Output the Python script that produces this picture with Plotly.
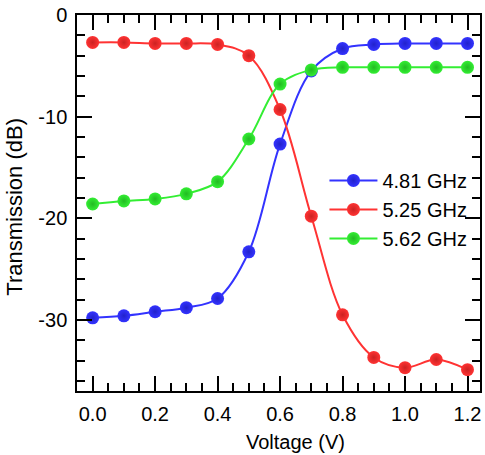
import plotly.graph_objects as go

voltage = [0.0, 0.1, 0.2, 0.3, 0.4, 0.5, 0.6, 0.7, 0.8, 0.9, 1.0, 1.1, 1.2]

t_481 = [-29.8, -29.6, -29.2, -28.8, -27.9, -23.3, -12.7, -5.5, -3.3, -2.9, -2.8, -2.8, -2.8]
t_525 = [-2.7, -2.7, -2.8, -2.8, -2.9, -4.0, -9.3, -19.8, -29.5, -33.7, -34.7, -33.9, -34.9]
t_562 = [-18.6, -18.3, -18.1, -17.6, -16.4, -12.2, -6.8, -5.4, -5.15, -5.15, -5.15, -5.15, -5.15]

x_ticks = [0.0, 0.2, 0.4, 0.6, 0.8, 1.0, 1.2]
x_ticktext = ["0.0", "0.2", "0.4", "0.6", "0.8", "1.0", "1.2"]
y_ticks = [0, -10, -20, -30]
y_ticktext = ["0", "-10", "-20", "-30"]

series = [
    ("4.81 GHz", t_481, "#3333ff", "#2222cc"),
    ("5.25 GHz", t_525, "#ff3333", "#cc2222"),
    ("5.62 GHz", t_562, "#33ee33", "#22bb22"),
]

FONT = "Liberation Sans, Arial, sans-serif"

fig = go.Figure()
for name, vals, col, edge in series:
    fig.add_trace(go.Scatter(
        x=voltage, y=vals, name=name,
        mode="lines+markers",
        line=dict(color=col, width=2, shape="spline", smoothing=1),
        marker=dict(size=13, color=col,
                    gradient=dict(type="radial", color=edge),
                    line=dict(width=0)),
    ))

axis_common = dict(
    showline=True, linecolor="black", linewidth=1.5, mirror="ticks",
    ticks="inside", tickcolor="black", tickwidth=1.5, ticklen=15,
    showgrid=False, zeroline=False, automargin=False,
    tickfont=dict(family=FONT, size=20, color="black"),
)

fig.update_xaxes(
    range=[-0.05, 1.24], tickvals=x_ticks, ticktext=x_ticktext,
    minor=dict(dtick=0.05, tick0=0, ticks="inside", ticklen=8,
               tickcolor="black", tickwidth=1.5, showgrid=False),
    ticklabelstandoff=4,
    **axis_common,
)
fig.update_yaxes(
    range=[-37, 0], tickvals=y_ticks, ticktext=y_ticktext,
    minor=dict(dtick=2, tick0=0, ticks="inside", ticklen=8,
               tickcolor="black", tickwidth=1.5, showgrid=False),
    ticklabelstandoff=4,
    **axis_common,
)

fig.add_annotation(text="Voltage (V)", xref="paper", yref="paper",
                   x=0.541, y=-0.136, xanchor="center", yanchor="middle",
                   showarrow=False, font=dict(family=FONT, size=20, color="black"))
fig.add_annotation(text="Transmission (dB)", xref="paper", yref="paper",
                   x=-0.154, y=0.49, xanchor="center", yanchor="middle", textangle=-90,
                   showarrow=False, font=dict(family=FONT, size=22, color="black"))

fig.update_layout(
    width=485, height=455,
    margin=dict(l=77, r=5, t=15, b=64),
    paper_bgcolor="white", plot_bgcolor="white",
    showlegend=True,
    legend=dict(x=0.614, y=0.612, xanchor="left", yanchor="top",
                bgcolor="rgba(0,0,0,0)", itemwidth=48,
                font=dict(family=FONT, size=20, color="black"),
                tracegroupgap=0),
)

# the default page has an 8px body margin; drop it so the figure sits at 0,0
fig.write_html("out.html", config={"displayModeBar": False},
               post_script="document.body.style.margin='0';")
